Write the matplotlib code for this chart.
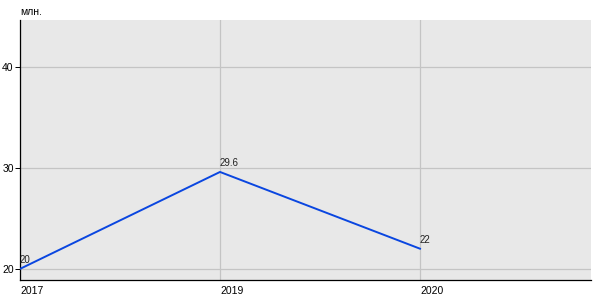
import matplotlib
matplotlib.use("Agg")
import matplotlib.pyplot as plt

# data
years = ["2017", "2019", "2020"]
values = [20, 29.6, 22]
value_labels = ["20", "29.6", "22"]
y_ticks = [20, 30, 40]

plt.rcParams['font.family'] = ['Liberation Sans', 'DejaVu Sans']

fig = plt.figure(figsize=(6, 3), dpi=100)
ax = fig.add_axes([20 / 600, 20 / 300, 571 / 600, 260 / 300])
ax.set_facecolor('#e8e8e8')

x = list(range(len(years)))
ax.plot(x, values, color='#0a46e0', linewidth=1.4, zorder=3)

for xi, v, lab in zip(x, values, value_labels):
    ax.annotate(lab, (xi, v), xytext=(0, 3), textcoords='offset points',
                ha='left', va='bottom', fontsize=7, color='#222222')

ax.set_xlim(0, 2.855)
ax.set_ylim(18.9, 44.65)
ax.set_xticks(x)
ax.set_xticklabels(years, ha='left')
ax.set_yticks(y_ticks)
ax.grid(True, color='#c4c4c4', linewidth=0.9)
ax.set_axisbelow(True)

for side in ['top', 'right']:
    ax.spines[side].set_visible(False)
for side in ['left', 'bottom']:
    ax.spines[side].set_color('black')
    ax.spines[side].set_linewidth(0.9)

ax.tick_params(axis='y', length=3.5, width=0.7, labelsize=7.5, pad=1)
ax.tick_params(axis='x', length=0, labelsize=7.5, pad=4)

fig.text(20 / 600, 1 - 12 / 300, "млн.", fontsize=7.5, ha='left', va='center')

fig.savefig("out.png", dpi=100, facecolor='white')
